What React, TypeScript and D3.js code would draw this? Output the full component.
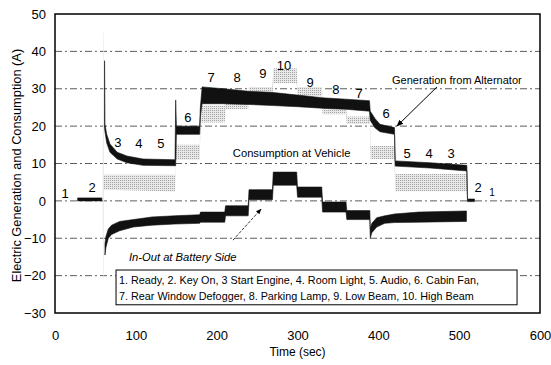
import React, { useRef, useEffect } from 'react';
import * as d3 from 'd3';

const W = 551;
const H = 365;
const margin = { top: 14, right: 11, bottom: 52, left: 55 };

const xTicks = [0, 100, 200, 300, 400, 500, 600];
const yTicks = [-30, -20, -10, 0, 10, 20, 30, 40, 50];
const gridValues = [-20, -10, 0, 10, 20, 30, 40];

// each row: [time (s), band low (A), band high (A)]; NaN row breaks the band
const alternator = [
  [61.3, 19.5, 37.5], [61.8, 18.5, 20.5], [64, 15.5, 17.8], [68, 13, 15.2], [77, 11.2, 13],
  [89, 10.2, 12], [109, 9.5, 11.2], [148.5, 9.4, 11], [149.3, 9.4, 27], [150.2, 17.8, 20],
  [179, 17.8, 20], [179.8, 22.5, 25], [182, 26, 30.5], [208, 26, 30], [240, 25.8, 29.3],
  [270, 25.5, 29], [300, 25.2, 28.3], [330, 24.8, 27.6], [360, 24.5, 27.2], [389, 24, 26.8],
  [390, 21.5, 24], [396, 19.5, 22], [402, 18.5, 20.5], [420, 17.8, 19.6], [420.8, 9.3, 10.7],
  [464, 8.8, 10.2], [509.5, 8, 9.5], [510.3, -0.2, 0.3],
];

const consumption = [
  [59.2, -0.3, 0.5], [59.5, -21, 45], [60.2, -21, 45], [60.5, 3, 7], [148.5, 2.5, 7],
  [149.5, 11, 15], [179, 11, 15], [180, 21, 25.5], [210, 21, 25.5], [211, 24.5, 27.5],
  [239, 24.5, 27.5], [240, 27.5, 30.5], [269, 27.5, 30.5], [270, 31.5, 35.5], [299, 31.5, 35.5],
  [300, 28, 30.5], [330, 28, 30.5], [331, 23.2, 26.7], [360, 23.2, 26.7], [361, 20.6, 22.6],
  [389.5, 20.6, 22.6], [390.5, 11.2, 14.7], [420, 11.2, 14.7], [421, 2.6, 7.2], [509.5, 2.6, 7.2],
  [510.5, -0.3, 0.3],
];

const battery = [
  [28, 0, 0.8], [58, 0, 0.8], [58, NaN, NaN],
  [61.8, -14.5, -11.5], [63, -12.5, -9.5], [66, -10, -7.5], [70, -9, -6.5], [80, -8, -5.5],
  [97, -7, -5], [120, -6.5, -4.3], [148, -6.2, -4], [179, -6, -3.7], [180, -5.7, -3],
  [210, -5.7, -3], [211, -4, -1.3], [239, -4, -1.3], [240, 0.3, 3], [269, 0.3, 3],
  [270, 4.2, 7.7], [299, 4.2, 7.7], [300, 1, 3.7], [330, 1, 3.7], [331, -3, -0.3],
  [360, -3, -0.3], [361, -5, -2.6], [389.5, -5, -2.6], [390, -10, -7.5], [392, -8.5, -6],
  [398, -7, -4.5], [408, -6, -4], [420, -5.8, -3.5], [450, -5.7, -3], [509, -5.5, -2.7],
  [509, NaN, NaN], [511, -0.2, 0.5], [519, -0.2, 0.5],
];

// stage numbers: [text, time, value, size]
const stageLabels = [
  ['1', 12.4, 2.1, 13], ['2', 45.8, 3.7, 13], ['3', 77.9, 15.8, 13], ['4', 103.9, 15.5, 13],
  ['5', 131.1, 15.5, 13], ['6', 164.5, 22.4, 13], ['7', 193, 33.1, 13], ['8', 225.2, 33.1, 13],
  ['9', 257.3, 34.2, 13], ['10', 283.3, 36.4, 13], ['9', 315.5, 31.8, 13], ['8', 347.6, 29.9, 13],
  ['7', 376.1, 28.9, 13], ['6', 409.5, 23.5, 13], ['5', 435.5, 12.8, 13], ['4', 462.7, 12.8, 13],
  ['3', 489.9, 12.8, 13], ['2', 523.3, 3.7, 13], ['1', 540.6, 2.4, 10],
];

const legendLines = [
  '1. Ready, 2. Key On, 3  Start Engine, 4. Room Light, 5. Audio, 6. Cabin Fan,',
  '7. Rear Window Defogger, 8. Parking Lamp, 9. Low Beam, 10. High Beam',
];
const legendBox = { t0: 75.5, t1: 571.6, v0: -18.5, v1: -27.8 };

const FONT = 'Liberation Sans, Arial, sans-serif';

export default function App() {
  const svgRef = useRef(null);

  useEffect(() => {
    const svg = d3.select(svgRef.current);
    svg.selectAll('*').remove();

    const x = d3.scaleLinear().domain([0, 600]).range([margin.left, W - margin.right]);
    const y = d3.scaleLinear().domain([-30, 50]).range([H - margin.bottom, margin.top]);

    const defs = svg.append('defs');
    const pat = defs.append('pattern')
      .attr('id', 'stipple')
      .attr('width', 2).attr('height', 2)
      .attr('patternUnits', 'userSpaceOnUse');
    pat.append('rect').attr('width', 2).attr('height', 2).attr('fill', '#e8e8e8');
    pat.append('rect').attr('width', 1).attr('height', 1).attr('fill', '#a4a4a4');

    defs.append('marker')
      .attr('id', 'arrow')
      .attr('viewBox', '0 0 10 10')
      .attr('refX', 9).attr('refY', 5)
      .attr('markerWidth', 7).attr('markerHeight', 7)
      .attr('orient', 'auto')
      .append('path')
      .attr('d', 'M0,1 L10,5 L0,9 Z')
      .attr('fill', '#000');

    // gridlines
    svg.append('g')
      .selectAll('line')
      .data(gridValues)
      .join('line')
      .attr('x1', x(0)).attr('x2', x(600))
      .attr('y1', d => y(d)).attr('y2', d => y(d))
      .attr('stroke', '#333')
      .attr('stroke-width', 0.8)
      .attr('stroke-dasharray', '7,3,2,3');

    const band = d3.area()
      .defined(d => !isNaN(d[1]))
      .x(d => x(d[0]))
      .y0(d => y(d[1]))
      .y1(d => y(d[2]));

    svg.append('path')
      .datum(consumption)
      .attr('fill', 'url(#stipple)')
      .attr('d', band);

    svg.append('path')
      .datum(alternator)
      .attr('fill', '#111')
      .attr('stroke', '#111')
      .attr('stroke-width', 0.6)
      .attr('d', band);

    svg.append('path')
      .datum(battery)
      .attr('fill', '#111')
      .attr('stroke', '#111')
      .attr('stroke-width', 0.6)
      .attr('d', band);

    // frame
    svg.append('rect')
      .attr('x', x(0)).attr('y', y(50))
      .attr('width', x(600) - x(0)).attr('height', y(-30) - y(50))
      .attr('fill', 'none')
      .attr('stroke', '#000')
      .attr('stroke-width', 1.5);

    // axes labels
    svg.append('g')
      .attr('transform', `translate(0,${y(-30)})`)
      .call(d3.axisBottom(x).tickValues(xTicks).tickSize(0).tickPadding(18))
      .call(g => g.select('.domain').remove())
      .call(g => g.selectAll('.tick text')
        .attr('font-size', 13).attr('font-family', FONT).attr('fill', '#000'));

    svg.append('g')
      .attr('transform', `translate(${x(0)},0)`)
      .call(d3.axisLeft(y).tickValues(yTicks).tickSize(0).tickPadding(9))
      .call(g => g.select('.domain').remove())
      .call(g => g.selectAll('.tick text')
        .attr('font-size', 13).attr('font-family', FONT).attr('fill', '#000'));

    svg.append('text')
      .attr('x', x(300))
      .attr('y', 356)
      .attr('text-anchor', 'middle')
      .attr('font-size', 12)
      .attr('font-family', FONT)
      .text('Time (sec)');

    svg.append('text')
      .attr('transform', `translate(21,${(y(50) + y(-30)) / 2 + 2}) rotate(-90)`)
      .attr('text-anchor', 'middle')
      .attr('font-size', 12.8)
      .attr('font-family', FONT)
      .text('Electric Generation and Consumption (A)');

    // stage numbers
    svg.append('g')
      .selectAll('text')
      .data(stageLabels)
      .join('text')
      .attr('x', d => x(d[1]))
      .attr('y', d => y(d[2]))
      .attr('dy', '0.36em')
      .attr('text-anchor', 'middle')
      .attr('font-size', d => d[3])
      .attr('font-family', FONT)
      .text(d => d[0]);

    // series annotations
    svg.append('text')
      .attr('x', x(417)).attr('y', y(31.3))
      .attr('font-size', 11).attr('font-family', FONT)
      .text('Generation from Alternator');
    svg.append('line')
      .attr('x1', x(472.6)).attr('y1', y(30.5))
      .attr('x2', x(423)).attr('y2', y(20))
      .attr('stroke', '#000').attr('stroke-width', 1)
      .attr('marker-end', 'url(#arrow)');

    svg.append('text')
      .attr('x', x(220)).attr('y', y(11.7))
      .attr('font-size', 11.2).attr('font-family', FONT)
      .text('Consumption at Vehicle');

    svg.append('text')
      .attr('x', x(91.5)).attr('y', y(-16.1))
      .attr('font-size', 11.2).attr('font-style', 'italic').attr('font-family', FONT)
      .text('In-Out at Battery Side');
    svg.append('line')
      .attr('x1', x(220.2)).attr('y1', y(-10.5))
      .attr('x2', x(254.9)).attr('y2', y(-2.2))
      .attr('stroke', '#000').attr('stroke-width', 0.8)
      .attr('stroke-dasharray', '3,1.5')
      .attr('marker-end', 'url(#arrow)');

    // legend box
    svg.append('rect')
      .attr('x', x(legendBox.t0)).attr('y', y(legendBox.v0))
      .attr('width', x(legendBox.t1) - x(legendBox.t0))
      .attr('height', y(legendBox.v1) - y(legendBox.v0))
      .attr('fill', '#fff')
      .attr('stroke', '#000')
      .attr('stroke-width', 1);

    svg.append('g')
      .selectAll('text')
      .data(legendLines)
      .join('text')
      .attr('x', x(legendBox.t0) + 3)
      .attr('y', (d, i) => y(legendBox.v0) + 14 + i * 16)
      .attr('font-size', 10.8)
      .attr('font-family', FONT)
      .text(d => d);
  }, []);

  return (
    <svg
      ref={svgRef}
      width={W}
      height={H}
      style={{ position: 'absolute', left: 0, top: 0, background: '#fff' }}
    />
  );
}
